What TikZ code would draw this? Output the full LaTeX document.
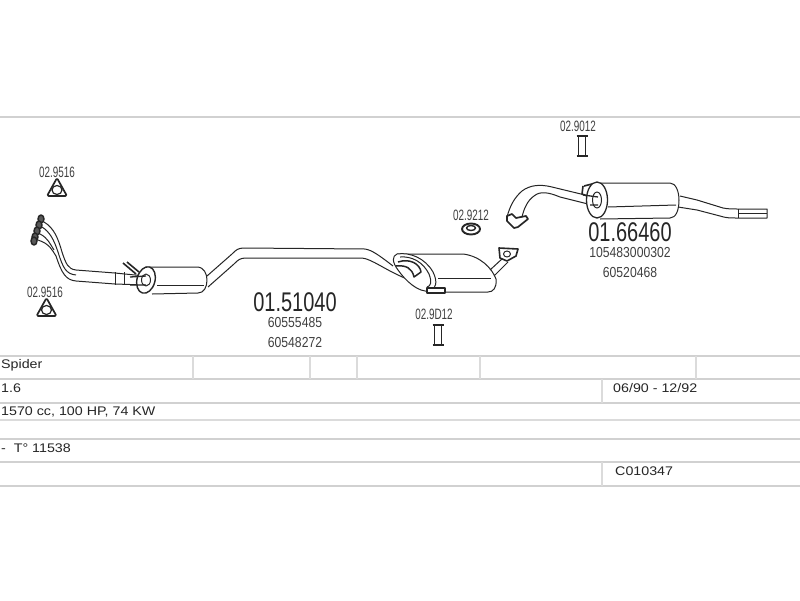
\documentclass[tikz,border=0pt]{standalone}
\usepackage{fontspec}
\setmainfont{Liberation Sans}
\tikzset{
    rule/.style={draw=black!18, line width=1.6pt},
    thinrule/.style={draw=black!14, line width=1.1pt},
    pipe/.style={draw=black!85, line width=1pt, line join=round},
    part/.style={text=black!75, font=\fontsize{15}{15}\selectfont, xscale=.66, inner sep=0pt},
    refno/.style={text=black!75, font=\fontsize{14.5}{15}\selectfont, xscale=.84, inner sep=0pt},
    bigno/.style={text=black!85, font=\fontsize{27}{27}\selectfont, xscale=.74, inner sep=0pt},
    cell/.style={text=black!85, font=\fontsize{12.5}{13}\selectfont, xscale=1.14, anchor=west, inner sep=0pt},
}
\newcommand{\gasket}[1]{
    \begin{scope}[shift={#1}]
    \draw[pipe, line width=1.7pt, fill=white, rounded corners=1.5pt] (0,-12)--(10,6)--(-10,6)--cycle;
    \draw[pipe, line width=1.2pt, fill=white] (0,0) ellipse (5 and 4.5);
    \end{scope}
}
\newcommand{\clamp}[1]{
    \begin{scope}[shift={#1}]
    \draw[pipe, line width=1.3pt] (-3.5,-11)--(-3.5,11) (3.5,-11)--(3.5,11);
    \draw[pipe, line width=2.4pt] (-5.5,-10)--(5.5,-10) (-5.5,10)--(5.5,10);
    \end{scope}
}
\begin{document}
\begin{tikzpicture}[x=1pt, y=-1pt]
\useasboundingbox (0,0) rectangle (800,600);
\fill[white] (0,0) rectangle (800,600);
% table
\foreach \y in {117,356,379,403,439,462,486}
{
    \draw[rule] (0,\y)--(800,\y);
}
\draw[thinrule] (0,420)--(800,420);
\foreach \x in {193,310,357,480,696}
{
    \draw[thinrule] (\x,356)--(\x,379);
}
\draw[thinrule] (602,379)--(602,403);
\draw[thinrule] (602,462)--(602,486);
\node[cell] (model) at (1,365) {Spider};
\node[cell] (engine) at (1,388) {1.6};
\node[cell] (power) at (1,412) {1570 cc, 100 HP, 74 KW};
\node[cell] (type) at (1,448) {-\; T° 11538};
\node[cell] (dates) at (613,388) {06/90 - 12/92};
\node[cell] (code) at (615,471) {C010347};
% front pipes and first silencer
\draw[pipe] (44,222)..controls (54,228) and (58,238)..(62,252)..controls (66,264) and (68,269)..(76,270)--(115,273);
\draw[pipe] (38,240)..controls (50,244) and (52,250)..(56,256)..controls (62,274) and (66,280)..(76,281)--(115,284);
\draw[pipe] (42,227)..controls (50,232) and (54,240)..(58,252)..controls (63,268) and (66,274)..(76,275);
\draw[pipe] (40,234)..controls (48,238) and (50,244)..(54,250);
\draw[pipe] (115,272)--(115,285) (124,272)--(124,285);
\draw[pipe] (115,273)--(145,276) (115,284)--(145,285);
\foreach \y/\x in {219/41,225/39,231/37,237/35,241/34}
{
    \draw[pipe, line width=1.5pt, fill=black!65] (\x,\y) ellipse (3 and 4);
}
\draw[pipe, line width=1.6pt] (123,263)--(136,274) (127,262)--(139,272);
\draw[pipe, fill=white] (146,267)--(197,267)..controls (204,267) and (207,274)..(207,280)..controls (207,287) and (204,293)..(198,293)--(152,294);
\draw[pipe] (157,285)--(204,285);
\draw[pipe, fill=white, line width=1.4pt, rotate around={-15:(146,280)}] (146,280) ellipse (9 and 13.5);
\draw[pipe, fill=white] (146,280) ellipse (4.5 and 6);
\draw[pipe, line width=1.3pt] (130,277)--(146,276) (130,285)--(146,285);
\draw[pipe] (207,276)--(232,254)..controls (236,250) and (238,248)..(244,248)--(365,249)..controls (372,250) and (380,256)..(393,266);
\draw[pipe] (208,287)--(234,264)..controls (238,260) and (240,258)..(246,258)--(362,258)..controls (372,259) and (385,270)..(407,279);
% second silencer
\draw[pipe, fill=white] (397,254)--(463,254)..controls (480,256) and (492,268)..(496,279)..controls (497,288) and (493,292)..(488,292)--(430,292);
\draw[pipe] (438,278)--(491,278);
\draw[pipe, fill=white] (397,254)..controls (410,252) and (425,258)..(433,272)..controls (438,282) and (436,289)..(430,291)..controls (418,293) and (405,280)..(398,270)..controls (392,262) and (392,256)..(397,254);
\draw[pipe] (400,257)..controls (412,256) and (423,262)..(429,274)..controls (432,282) and (431,286)..(427,287);
\draw[pipe, line width=1.5pt] (398,262)..controls (410,258) and (420,264)..(421,272)--(414,277)..controls (412,268) and (406,265)..(396,266);
\draw[pipe, fill=white, line width=1.3pt] (427,288) rectangle (445,293);
\draw[pipe] (490,270)--(503,258) (494,276)--(508,262);
\draw[pipe, line width=1.6pt, fill=white] (499,248)--(518,249)--(516,256)--(507,261)--(500,258)--cycle;
\draw[pipe, fill=white] (507,254) ellipse (3.5 and 3);
% rear silencer and tail pipe
\draw[pipe] (507,217)..controls (510,206) and (514,198)..(522,191)..controls (530,185) and (540,184)..(552,187)--(585,195);
\draw[pipe] (522,217)..controls (524,208) and (528,200)..(534,196)..controls (540,191) and (548,192)..(560,197)--(592,205);
\draw[pipe, line width=1.7pt, fill=white] (507,216)--(512,214)--(516,218)--(526,216)--(528,219)--(518,227)--(514,228)--(507,221)--cycle;
\draw[pipe, fill=white] (600,183)--(670,183)..controls (676,183) and (679,192)..(679,200)..controls (679,210) and (676,218)..(670,218)--(600,219);
\draw[pipe] (608,207)--(676,205);
\draw[pipe, line width=1.6pt] (584,186)--(592,184) (583,186)--(582,194)--(590,197);
\draw[pipe, fill=white, line width=1.3pt] (597,200) ellipse (10.5 and 18);
\draw[pipe, fill=white] (597,200) ellipse (4.5 and 8);
\draw[pipe, line width=1.3pt] (583,195)--(598,197) (590,205)--(598,205);
\draw[pipe] (680,196)--(697,200)--(723,208)..controls (728,209) and (732,209)..(738,209)--(767,209)--(767,218)--(738,218)..controls (730,218) and (726,218)..(720,216)--(697,210)--(678,207);
\draw[pipe] (738,209)--(738,218) (738,213.5)--(767,213.5);
% small parts
\gasket{(57,190)}
\gasket{(46.5,310)}
\draw[pipe, line width=1.9pt, fill=white] (471,229) ellipse (9 and 5.5);
\draw[pipe, line width=1.4pt, fill=white] (471,228) ellipse (4.5 and 2.5);
\clamp{(438,335)}
\clamp{(582,146)}
% part numbers
\node[part] (gasketa) at (57,172) {02.9516};
\node[part] (gasketb) at (45,292) {02.9516};
\node[part] (ring) at (471,215) {02.9212};
\node[part] (clampa) at (434,314) {02.9D12};
\node[part] (clampb) at (578,126) {02.9012};
\node[bigno] (front) at (295,302) {01.51040};
\node[refno] (fronta) at (295,323) {60555485};
\node[refno] (frontb) at (295,343) {60548272};
\node[bigno] (rear) at (630,232) {01.66460};
\node[refno] (reara) at (630,253) {105483000302};
\node[refno] (rearb) at (630,273) {60520468};
\end{tikzpicture}
\end{document}
